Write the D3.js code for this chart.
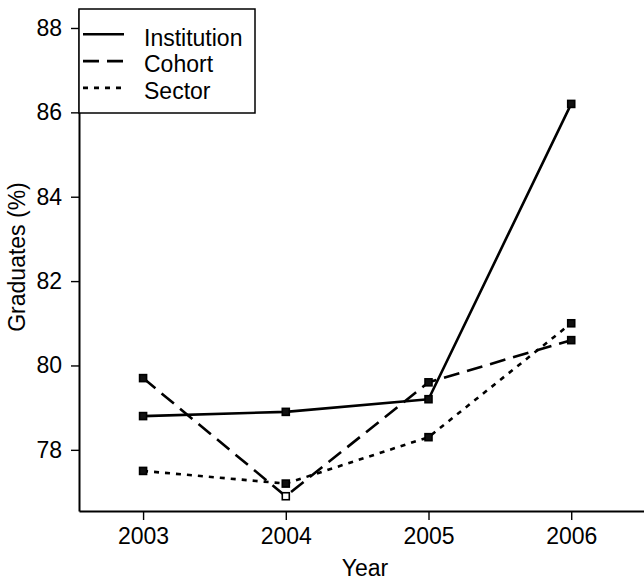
<!DOCTYPE html>
<html>
<head>
<meta charset="utf-8">
<script src="https://cdn.jsdelivr.net/npm/d3@7/dist/d3.min.js"></script>
<style>
  html, body { margin: 0; padding: 0; background: #fff; }
  svg { display: block; }
  text { font-family: "Liberation Sans", Arial, Helvetica, sans-serif; fill: #000; }
</style>
</head>
<body>
<svg id="chart" width="644" height="583"></svg>
<script>
// ---- data ----
const years = [2003, 2004, 2005, 2006];
const institution = [78.8, 78.9, 79.2, 86.2];
const cohort = [79.7, 76.9, 79.6, 80.6];
const sector = [77.5, 77.2, 78.3, 81.0];
const seriesNames = ["Institution", "Cohort", "Sector"];
const yTicks = [78, 80, 82, 84, 86, 88];
const openMarkers = [["Cohort", 2004]];

const series = [
  { name: seriesNames[0], values: institution, dash: null },
  { name: seriesNames[1], values: cohort, dash: "16,8" },
  { name: seriesNames[2], values: sector, dash: "5,6" }
];

// ---- layout ----
const svg = d3.select("#chart");
const plot = { left: 79, right: 644, top: 9, bottom: 511 };
const x = d3.scaleLinear().domain([2002.551, 2006.51]).range([plot.left, plot.right]);
const y = d3.scaleLinear().domain([76.55, 88.45]).range([plot.bottom, plot.top]);
const fontSize = 23;

// axes
const yAxis = d3.axisLeft(y).tickValues(yTicks).tickSize(8).tickSizeOuter(0).tickPadding(9)
  .tickFormat(d3.format("d"));
const gy = svg.append("g").attr("transform", `translate(${plot.left},0)`).call(yAxis);
const xAxis = d3.axisBottom(x).tickValues(years).tickSize(9).tickSizeOuter(0).tickPadding(8)
  .tickFormat(d3.format("d"));
const gx = svg.append("g").attr("transform", `translate(0,${plot.bottom})`).call(xAxis);

[gx, gy].forEach(g => {
  g.select(".domain").attr("stroke", "#000").attr("stroke-width", 2);
  g.selectAll(".tick line").attr("stroke", "#000").attr("stroke-width", 1.4);
  g.selectAll(".tick text").attr("font-size", fontSize)
    .attr("font-family", "'Liberation Sans', Arial, sans-serif").attr("fill", "#000");
});

// axis titles
svg.append("text").attr("x", 365).attr("y", 576).attr("text-anchor", "middle")
  .attr("font-size", fontSize).text("Year");
svg.append("text").attr("transform", "translate(25,257) rotate(-90)")
  .attr("text-anchor", "middle").attr("font-size", fontSize).text("Graduates (%)");

// lines
const line = d3.line().x((d, i) => x(years[i])).y(d => y(d));
series.forEach(s => {
  svg.append("path").datum(s.values).attr("d", line)
    .attr("fill", "none").attr("stroke", "#000").attr("stroke-width", 2.6)
    .attr("stroke-dasharray", s.dash).attr("stroke-linejoin", "round");
});

// markers
const isOpen = (name, yr) => openMarkers.some(m => m[0] === name && m[1] === yr);
series.forEach(s => {
  svg.append("g").selectAll("rect").data(s.values).join("rect")
    .attr("x", (d, i) => x(years[i]) - 3.5)
    .attr("y", d => y(d) - 3.5)
    .attr("width", 7).attr("height", 7)
    .attr("fill", (d, i) => isOpen(s.name, years[i]) ? "#fff" : "#111")
    .attr("stroke", "#000").attr("stroke-width", 1.6);
});

// legend
const lg = svg.append("g");
lg.append("rect").attr("x", plot.left).attr("y", plot.top).attr("width", 176).attr("height", 104)
  .attr("fill", "#fff").attr("stroke", "#000").attr("stroke-width", 1.5);
series.forEach((s, i) => {
  const ly = 34.3 + i * 26.8;
  lg.append("line").attr("x1", 83).attr("x2", 124).attr("y1", ly).attr("y2", ly)
    .attr("stroke", "#000").attr("stroke-width", 2.6).attr("stroke-dasharray", s.dash);
  lg.append("text").attr("x", 144).attr("y", ly + 11.3).attr("font-size", fontSize).text(s.name);
});
</script>
</body>
</html>
